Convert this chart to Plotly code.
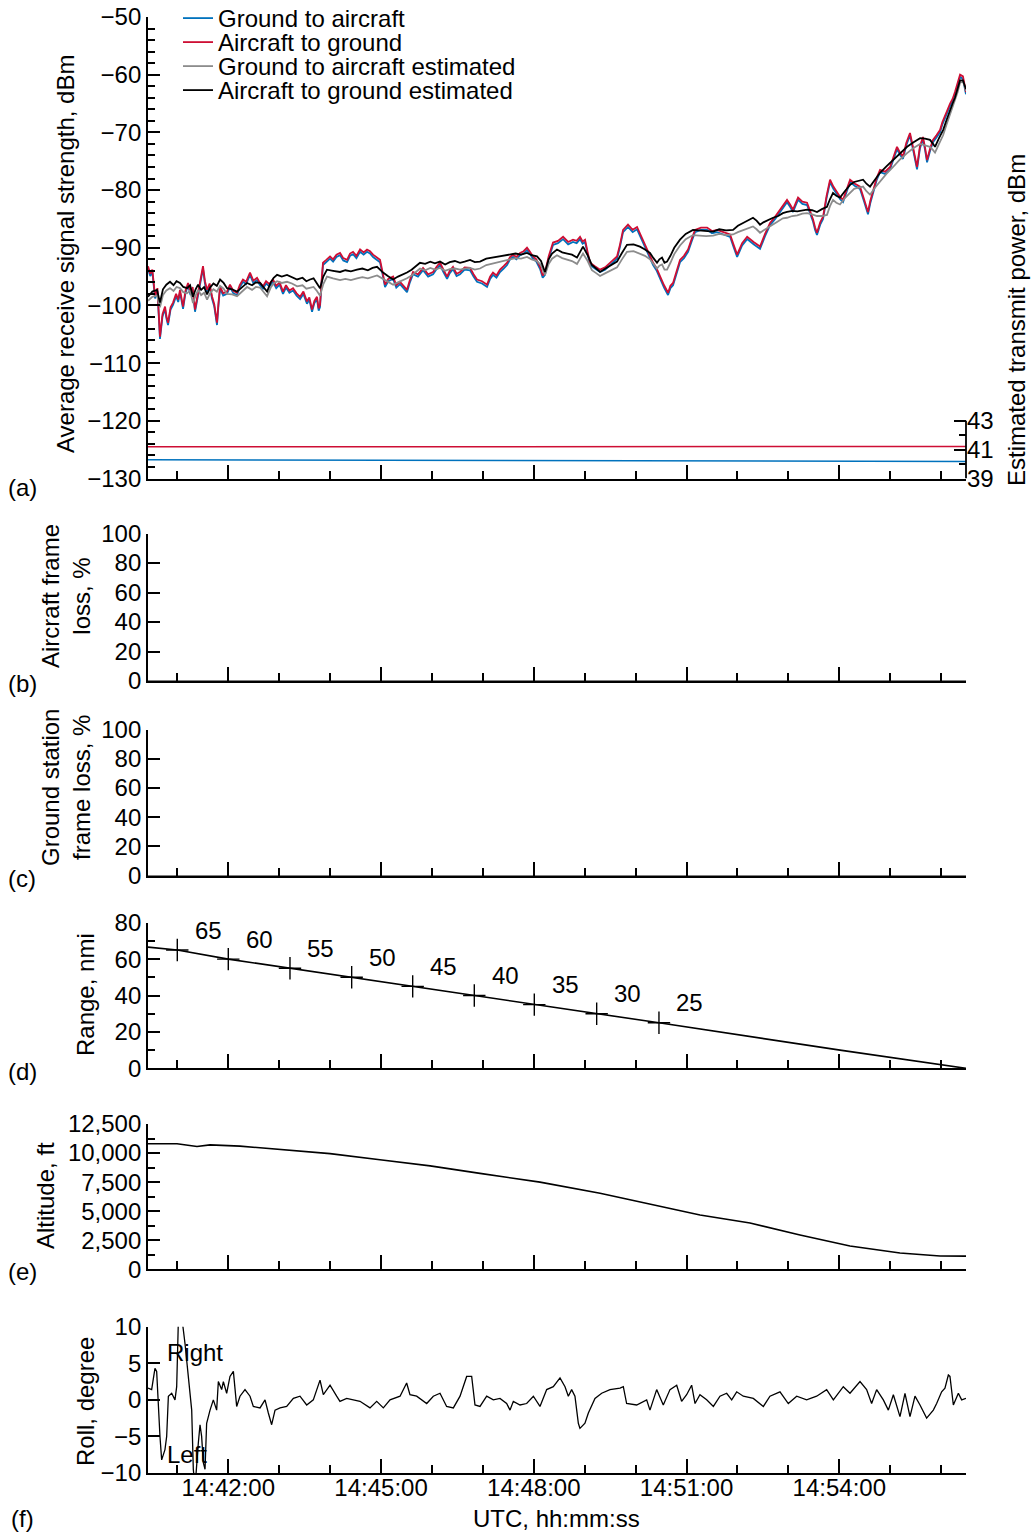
import pandas as pd
import plotly.graph_objects as go

# ---------------- data (seconds after 14:40:00 UTC) ----------------
t_meas = [25.4, 28.0, 30.5, 33.7, 36.5, 39.5, 42.5, 45.5, 47.0, 49.0,
          52.0, 54.9, 58.5, 61.0, 63.1, 66.7, 69.5, 72.6, 75.5, 78.0,
          80.8, 84.0, 87.0, 90.2, 92.5, 95.0, 98.0, 100.8, 103.5, 106.7,
          108.5, 110.3, 114.0, 118.5, 122.0, 126.0, 130.3, 133.5, 137.3, 141.0,
          145.6, 149.5, 153.9, 157.0, 160.9, 164.5, 168.5, 172.7, 176.5, 180.5,
          184.5, 188.0, 192.0, 196.3, 200.5, 204.6, 208.5, 212.7, 215.5, 218.7,
          221.5, 224.5, 226.5, 228.1, 229.8, 231.6, 235.5, 239.9, 243.5, 247.5,
          251.7, 255.5, 260.0, 263.5, 267.0, 271.0, 275.3, 279.5, 283.5, 287.0,
          290.6, 294.5, 298.8, 301.5, 304.7, 308.5, 314.2, 318.0, 322.3, 326.5,
          330.6, 334.0, 337.7, 343.5, 349.5, 355.5, 361.3, 365.5, 369.5, 373.5,
          377.8, 381.0, 384.8, 389.0, 393.1, 398.5, 404.9, 409.0, 413.1, 419.0,
          424.9, 428.5, 431.9, 436.0, 440.2, 444.5, 448.5, 452.0, 455.5, 459.5,
          463.8, 468.0, 472.0, 475.5, 479.1, 483.0, 487.4, 490.5, 493.2, 497.5,
          502.7, 508.5, 514.5, 520.5, 526.2, 530.5, 534.5, 537.5, 540.4, 543.5,
          546.3, 552.0, 558.1, 564.0, 569.9, 574.0, 578.1, 581.5, 585.2, 591.0,
          596.5, 601.7, 605.0, 608.8, 614.5, 620.6, 624.5, 628.8, 633.5, 638.2,
          641.0, 644.1, 648.0, 652.3, 657.0, 661.8, 666.0, 670.0, 677.0, 684.2,
          690.0, 696.0, 703.5, 711.3, 715.5, 719.6, 725.5, 731.4, 739.0, 746.6,
          752.5, 758.4, 764.5, 770.2, 774.5, 778.4, 782.0, 785.5, 788.5, 791.4,
          796.5, 802.0, 805.5, 809.1, 811.5, 813.7, 817.5, 820.9, 825.0, 829.1,
          833.0, 837.3, 841.0, 844.4, 848.5, 852.7, 858.5, 864.4, 869.0, 873.8,
          876.5, 879.8, 884.0, 888.0, 894.0, 899.8, 904.0, 908.0, 911.5, 915.0,
          919.0, 923.3, 927.5, 931.6, 935.0, 938.6, 941.0, 943.4, 947.0, 950.4,
          954.5, 958.7, 961.5, 964.5, 967.5, 970.5, 973.5, 976.3, 979.5, 982.3,
          985.7, 987.5, 989.3]
rssi_a2g = [-93.2, -94.5, -93.8, -98.4, -97.0, -105.4, -101.5, -100.2, -101.8, -103.0,
            -100.3, -99.5, -98.0, -99.0, -97.3, -100.2, -97.5, -96.1, -97.8, -96.8,
            -100.7, -98.2, -95.5, -93.2, -95.8, -97.3, -96.2, -98.4, -99.8, -103.0,
            -99.5, -96.7, -97.9, -97.6, -96.4, -97.5, -97.8, -96.5, -95.5, -95.9,
            -94.3, -95.7, -95.2, -96.0, -96.7, -95.8, -96.3, -95.5, -96.6, -96.0,
            -97.6, -96.5, -97.4, -97.0, -97.9, -98.5, -97.6, -99.3, -98.6, -100.7,
            -99.2, -98.5, -100.5, -99.9, -96.0, -92.6, -92.1, -91.5, -92.0, -91.2,
            -90.9, -91.8, -92.1, -91.0, -90.7, -91.4, -90.3, -90.8, -90.3, -90.6,
            -91.2, -91.6, -92.1, -94.0, -96.4, -95.4, -95.0, -96.5, -95.9, -96.6,
            -97.3, -95.6, -94.2, -94.6, -93.5, -94.6, -94.2, -93.3, -92.6, -93.8,
            -95.0, -94.0, -93.3, -94.5, -94.2, -93.4, -93.5, -94.6, -95.5, -95.8,
            -96.4, -95.0, -94.3, -94.8, -93.8, -93.2, -92.6, -91.6, -91.2, -91.6,
            -90.9, -90.6, -90.0, -90.7, -91.5, -92.0, -93.3, -94.8, -94.3, -91.5,
            -89.1, -88.8, -88.1, -89.0, -88.6, -88.8, -88.1, -88.9, -88.6, -90.8,
            -92.6, -93.2, -93.8, -93.4, -92.6, -92.2, -91.5, -89.5, -86.9, -86.0,
            -86.9, -86.4, -87.5, -88.6, -90.5, -92.6, -93.5, -95.0, -96.5, -97.8,
            -96.6, -96.1, -94.2, -92.1, -91.4, -90.3, -88.5, -86.9, -86.5, -86.5,
            -87.1, -86.9, -87.3, -87.7, -89.5, -91.2, -89.2, -88.1, -89.0, -89.8,
            -87.6, -85.7, -84.6, -83.4, -82.6, -81.7, -82.5, -83.4, -82.3, -81.3,
            -82.0, -82.2, -83.6, -85.1, -86.5, -87.4, -85.6, -84.6, -81.0, -78.2,
            -79.4, -80.5, -81.2, -81.7, -79.8, -78.2, -78.9, -79.4, -81.5, -83.8,
            -81.9, -80.0, -77.9, -76.5, -76.8, -76.0, -74.0, -72.5, -73.5, -74.2,
            -71.8, -70.1, -73.0, -76.0, -72.4, -70.8, -72.6, -74.8, -72.8, -71.3,
            -70.5, -69.6, -68.2, -67.0, -66.1, -65.0, -64.2, -63.0, -61.5, -60.0,
            -60.3, -61.8, -63.0]
rssi_g2a = [-93.6, -94.9, -94.2, -98.8, -97.4, -105.8, -101.9, -100.6, -102.2, -103.4,
            -100.7, -99.9, -98.4, -99.4, -97.7, -100.6, -97.9, -96.5, -98.2, -97.2,
            -101.1, -98.6, -95.9, -93.6, -96.2, -97.7, -96.6, -98.8, -100.2, -103.4,
            -99.9, -97.1, -98.3, -98.0, -96.8, -97.9, -98.2, -96.9, -95.9, -96.3,
            -94.7, -96.1, -95.6, -96.4, -97.1, -96.2, -96.7, -95.9, -97.0, -96.4,
            -98.0, -96.9, -97.8, -97.4, -98.3, -98.9, -98.0, -99.7, -99.0, -101.1,
            -99.6, -98.9, -100.9, -100.3, -96.4, -93.0, -92.5, -91.9, -92.4, -91.6,
            -91.3, -92.2, -92.5, -91.4, -91.1, -91.8, -90.7, -91.2, -90.7, -91.0,
            -91.6, -92.0, -92.5, -94.4, -96.8, -95.8, -95.4, -96.9, -96.3, -97.0,
            -97.7, -96.0, -94.6, -95.0, -93.9, -95.0, -94.6, -93.7, -93.0, -94.2,
            -95.4, -94.4, -93.7, -94.9, -94.6, -93.8, -93.9, -95.0, -95.9, -96.2,
            -96.8, -95.4, -94.7, -95.2, -94.2, -93.6, -93.0, -92.0, -91.6, -92.0,
            -91.3, -91.0, -90.4, -91.1, -91.9, -92.4, -93.7, -95.2, -94.7, -91.9,
            -89.5, -89.2, -88.5, -89.4, -89.0, -89.2, -88.5, -89.3, -89.0, -91.2,
            -93.0, -93.6, -94.2, -93.8, -93.0, -92.6, -91.9, -89.9, -87.3, -86.4,
            -87.3, -86.8, -87.9, -89.0, -90.9, -93.0, -93.9, -95.4, -96.9, -98.2,
            -97.0, -96.5, -94.6, -92.5, -91.8, -90.7, -88.9, -87.3, -86.9, -86.9,
            -87.5, -87.3, -87.7, -88.1, -89.9, -91.6, -89.6, -88.5, -89.4, -90.2,
            -88.0, -86.1, -85.0, -83.8, -83.0, -82.1, -82.9, -83.8, -82.7, -81.7,
            -82.4, -82.6, -84.0, -85.5, -86.9, -87.8, -86.0, -85.0, -81.4, -78.6,
            -79.8, -80.9, -81.6, -82.1, -80.2, -78.6, -79.3, -79.8, -81.9, -84.2,
            -82.3, -80.4, -78.3, -76.9, -77.2, -76.4, -74.4, -72.9, -73.9, -74.6,
            -72.2, -70.5, -73.4, -76.4, -72.8, -71.2, -73.0, -75.2, -73.2, -71.7,
            -70.9, -70.0, -68.6, -67.4, -66.5, -65.4, -64.6, -63.4, -61.9, -60.4,
            -60.7, -62.2, -63.4]

t_est = [25.4, 30.5, 36.0, 39.5, 43.0, 47.0, 51.3, 55.5, 59.0, 63.1,
         67.0, 71.4, 75.0, 78.4, 81.5, 84.4, 88.0, 91.5, 95.0, 98.5,
         102.5, 106.5, 110.3, 114.5, 118.5, 124.5, 130.3, 136.0, 142.1, 148.0,
         152.5, 157.4, 161.5, 165.7, 170.0, 173.5, 177.5, 183.0, 189.2, 195.0,
         201.1, 207.5, 212.0, 216.3, 220.5, 224.5, 228.1, 232.0, 236.3, 243.5,
         251.7, 258.0, 264.5, 271.7, 278.0, 284.5, 290.0, 295.3, 302.4, 308.0,
         314.2, 320.0, 325.5, 330.6, 336.0, 341.5, 345.9, 352.0, 358.0, 363.5,
         369.5, 375.5, 381.0, 387.0, 393.1, 398.5, 404.9, 410.5, 416.6, 424.0,
         431.9, 438.0, 444.5, 452.0, 458.5, 465.0, 472.0, 477.5, 483.8, 488.5,
         493.2, 497.5, 501.5, 507.3, 513.5, 519.5, 525.0, 530.9, 534.5, 538.0,
         543.5, 548.5, 553.5, 558.1, 564.5, 571.0, 578.1, 583.5, 589.8, 597.5,
         605.1, 611.0, 616.9, 621.0, 625.2, 628.0, 631.1, 634.0, 637.0, 641.0,
         645.5, 652.3, 659.0, 667.6, 675.0, 683.0, 691.3, 698.5, 706.5, 714.8,
         720.5, 726.6, 732.5, 738.3, 742.5, 746.6, 750.5, 755.5, 761.9, 768.0,
         773.5, 778.4, 784.5, 790.5, 796.5, 802.0, 808.0, 813.7, 819.5, 825.5,
         829.0, 832.6, 836.5, 840.8, 846.5, 852.7, 857.5, 862.0, 868.0, 872.0,
         876.2, 882.0, 888.0, 895.5, 903.4, 911.5, 919.9, 927.5, 935.2, 941.0,
         946.9, 950.0, 952.8, 957.5, 962.3, 966.5, 970.5, 973.5, 976.3, 979.5,
         982.3, 985.7, 987.5, 989.3]
rssi_a2g_est = [-98.5, -97.6, -97.3, -99.5, -97.2, -96.4, -95.9, -96.5, -95.8, -96.1,
                -96.8, -97.0, -96.5, -98.5, -97.2, -96.4, -97.3, -96.8, -98.1, -96.9,
                -96.2, -96.6, -95.5, -96.1, -97.0, -97.2, -97.6, -96.8, -96.1, -96.5,
                -96.0, -96.1, -96.9, -97.6, -96.0, -95.2, -94.7, -95.0, -94.7, -95.1,
                -95.5, -95.2, -95.8, -95.5, -95.3, -96.2, -97.0, -95.0, -93.8, -94.0,
                -94.2, -93.9, -94.1, -93.8, -93.6, -93.9, -93.5, -93.3, -94.3, -94.9,
                -95.5, -95.0, -94.7, -94.3, -93.8, -93.2, -92.6, -92.8, -92.4, -92.7,
                -92.4, -92.9, -92.5, -92.3, -92.6, -92.4, -92.1, -92.5, -92.4, -91.9,
                -91.7, -91.5, -91.4, -91.2, -91.0, -91.2, -90.9, -91.3, -91.5, -92.3,
                -94.2, -92.0, -91.0, -90.3, -90.8, -91.0, -91.2, -91.7, -90.7, -89.8,
                -91.3, -93.0, -93.6, -94.2, -93.6, -93.0, -92.4, -91.0, -89.5, -89.4,
                -89.8, -90.3, -90.9, -91.8, -92.6, -92.0, -91.7, -92.6, -92.4, -91.4,
                -90.0, -88.6, -87.6, -86.9, -87.0, -87.2, -87.2, -86.8, -87.0, -86.9,
                -86.2, -85.7, -85.2, -84.8, -85.3, -86.0, -85.6, -85.2, -84.8, -84.5,
                -84.0, -83.8, -83.6, -83.7, -83.5, -83.4, -83.5, -83.8, -83.3, -82.9,
                -81.6, -80.5, -81.0, -81.3, -80.2, -79.1, -78.6, -78.4, -78.2, -78.9,
                -79.4, -78.2, -77.0, -75.9, -74.8, -73.6, -72.5, -71.7, -71.0, -71.1,
                -71.3, -71.9, -72.5, -71.0, -69.6, -67.8, -66.0, -65.0, -64.0, -62.5,
                -61.0, -61.0, -61.6, -62.5]
rssi_g2a_est = [-99.2, -98.5, -98.3, -100.3, -98.2, -97.4, -97.0, -97.5, -96.8, -97.0,
                -97.7, -97.9, -97.4, -99.6, -98.3, -97.3, -98.2, -97.8, -99.0, -97.9,
                -97.2, -97.6, -96.6, -97.1, -98.0, -98.1, -98.4, -97.6, -96.8, -97.3,
                -96.8, -96.9, -97.7, -98.4, -96.9, -96.2, -95.8, -96.1, -95.9, -96.2,
                -96.7, -96.5, -97.1, -97.0, -96.8, -97.5, -98.3, -96.3, -95.0, -95.3,
                -95.6, -95.4, -95.6, -95.3, -95.1, -95.3, -95.0, -94.8, -95.4, -95.9,
                -96.4, -96.0, -95.7, -95.3, -94.8, -94.2, -93.6, -93.9, -93.5, -93.8,
                -93.5, -94.0, -93.7, -93.6, -93.8, -93.6, -93.5, -93.8, -93.6, -93.0,
                -92.7, -92.4, -92.2, -92.0, -91.8, -91.9, -91.6, -92.0, -92.3, -93.0,
                -94.7, -92.8, -91.9, -91.3, -91.8, -92.1, -92.3, -92.8, -91.9, -91.0,
                -92.3, -93.9, -94.4, -94.9, -94.4, -93.9, -93.4, -92.1, -90.7, -90.6,
                -91.0, -91.4, -92.0, -92.9, -93.6, -93.1, -92.9, -93.8, -93.8, -92.6,
                -91.1, -89.6, -88.5, -87.8, -87.9, -88.0, -87.9, -87.6, -87.8, -87.7,
                -87.3, -87.0, -86.6, -86.3, -86.8, -87.4, -87.0, -86.5, -85.9, -85.4,
                -84.9, -84.8, -84.5, -84.4, -84.1, -84.0, -84.2, -84.5, -84.5, -84.3,
                -82.8, -81.7, -82.2, -82.5, -81.4, -80.4, -79.8, -79.6, -79.4, -80.2,
                -80.8, -79.6, -78.5, -77.2, -76.0, -74.7, -73.6, -72.7, -72.0, -72.2,
                -72.5, -73.0, -73.5, -72.0, -70.5, -68.6, -66.8, -65.7, -64.6, -63.0,
                -61.4, -61.2, -61.9, -62.8]

t_tx = [25.4, 510.9, 880.0, 989.3]
tx_g2a = [40.30, 40.25, 40.18, 40.18]
tx_a2g = [41.20, 41.20, 41.22, 41.22]

t_loss = [25.4, 989.3]
loss_aircraft = [0, 0]
loss_ground = [0, 0]

t_range = [25.4, 59.9, 120.0, 192.7, 265.4, 337.3, 409.9, 480.6, 554.1, 627.5, 840.9, 989.3]
range_nmi = [66.6, 65.0, 60.0, 55.0, 50.0, 45.0, 40.0, 35.0, 30.0, 25.0, 10.0, 0.0]
t_mark = [59.9, 120.0, 192.7, 265.4, 337.3, 409.9, 480.6, 554.1, 627.5]
mark_nmi = [65, 60, 55, 50, 45, 40, 35, 30, 25]

t_alt = [25.4, 59.6, 83.1, 98.5, 133.8, 180.9, 239.9, 301.1, 357.9, 416.6, 487.3, 558.1, 617.0,
         675.9, 734.8, 793.7, 852.6, 911.5, 958.7, 989.3]
altitude_ft = [10800, 10800, 10570, 10700, 10600, 10300, 9950, 9400, 8900, 8250, 7500, 6550, 5600,
               4670, 3980, 2950, 2000, 1400, 1150, 1130]

t_roll = [25.4, 29.7, 33.6, 35.6, 39.5, 41.5, 45.4, 47.4, 49.4, 53.3, 57.2, 59.2, 61.1, 65.1, 69.0,
          72.9, 76.9, 78.8, 80.8, 84.7, 86.7, 88.6, 90.6, 92.6, 94.5, 98.5, 102.4, 106.3, 108.3,
          112.2, 114.2, 118.1, 122.0, 126.0, 129.9, 133.8, 139.7, 145.6, 149.5, 157.4, 163.3,
          167.2, 171.1, 175.1, 181.0, 188.8, 196.7, 204.5, 212.4, 220.2, 228.1, 232.0, 239.9,
          247.7, 251.6, 259.5, 267.4, 275.2, 287.0, 294.9, 302.7, 310.6, 322.4, 330.2, 334.1,
          342.0, 353.8, 361.6, 369.5, 377.3, 385.2, 393.1, 400.9, 406.8, 410.7, 416.6, 424.5,
          432.3, 440.2, 448.0, 452.0, 455.9, 463.8, 471.6, 479.5, 487.3, 495.2, 503.0, 510.9,
          516.8, 520.7, 524.6, 528.5, 532.5, 534.4, 540.3, 544.3, 552.1, 560.0, 569.8, 581.6,
          585.5, 589.4, 601.2, 613.0, 616.9, 624.8, 632.6, 640.5, 648.4, 654.2, 660.1, 666.0,
          670.0, 675.8, 683.7, 691.6, 699.4, 707.3, 713.2, 719.1, 726.9, 738.7, 750.5, 758.3,
          770.1, 779.9, 789.8, 801.5, 813.3, 825.1, 833.0, 844.7, 852.6, 864.4, 872.2, 878.1,
          884.0, 891.9, 897.8, 903.7, 911.5, 917.4, 923.3, 929.2, 935.1, 942.9, 950.8, 954.7,
          960.6, 964.5, 968.5, 970.4, 974.4, 980.3, 984.2, 989.3]
roll_deg = [1.6, 1.4, 4.3, 3.9, -5.0, -8.2, -6.8, -5.0, 0.5, 0.9, 0.0, 1.8, 10.5, 11.4, 7.7,
            3.2, -1.4, -9.5, -12.0, -5.9, -3.4, -5.0, -8.6, -9.5, -3.2, -1.4, 0.0, -1.4, 2.5,
            1.4, 2.5, 0.9, 3.2, 3.9, -0.9, 0.5, 1.4, 0.5, -0.9, -1.1, 0.0,
            -1.8, -3.4, -1.4, -1.1, -0.9, 0.2, 0.5, -0.7, 0.0, 2.7, 0.7, 2.0,
            0.5, -0.2, 0.2, 0.0, -0.2, -1.1, -0.2, -1.1, 0.0, 0.5, 2.3, 0.7,
            0.5, -0.5, 0.5, 0.9, -0.9, -1.1, 0.5, 3.2, 3.2, -0.7, -0.9, 0.5,
            0.0, 0.2, -0.5, -1.4, -0.2, -0.7, -0.5, 0.5, -0.9, 1.4, 1.8, 3.0,
            1.8, 0.5, 1.4, 0.5, -3.2, -3.9, -3.2, -1.8, 0.2, 0.9, 1.4, 1.6,
            1.8, -0.5, -0.7, 0.0, -1.4, 1.4, -0.7, 1.4, 2.0, -0.2, 0.7, 2.0,
            -0.5, 0.7, 0.0, -0.9, 0.5, 0.9, 0.0, 1.1, 0.5, 0.2, -0.9, 0.5,
            1.1, -0.5, 0.5, 0.0, 0.5, 1.4, 0.0, 1.8, 0.9, 2.5, 1.4, -0.5,
            1.4, 0.0, -1.4, 0.7, -2.3, 0.9, -2.3, 0.5, -0.7, -2.5, -1.4, -0.5,
            1.1, 1.6, 3.4, 3.2, -0.7, 0.9, 0.0, 0.2]

x_start_s, x_end_s = 25.4, 989.3

# ---------------- helpers ----------------
BASE = pd.Timestamp("2000-01-01 14:40:00")


def ts(sec):
    return [BASE + pd.Timedelta(seconds=float(s)) for s in sec]


FONT = "Liberation Sans, Arial, sans-serif"
FS = 24
TICK_FONT = dict(family=FONT, size=FS, color="black")
TFONT = dict(family=FONT, size=FS, color="black")

W_FIG, H_FIG = 1032, 1532
PLOT_L, PLOT_R, PLOT_T, PLOT_B = 148, 966, 17, 1473
M_L, M_R, M_T, M_B = PLOT_L, W_FIG - PLOT_R, PLOT_T, H_FIG - PLOT_B
PW, PH = PLOT_R - PLOT_L, PLOT_B - PLOT_T


def px_x(px):
    return (px - PLOT_L) / PW


def px_y(py):
    return (PLOT_B - py) / PH


BLUE, RED, GRAY, BLACK = "#0072BD", "#CE0E34", "#8C8C8C", "#000000"
LW = 1.8

fig = go.Figure()

# panel (a)
fig.add_trace(go.Scatter(x=ts(t_meas), y=rssi_g2a, mode="lines", name="Ground to aircraft",
                         line=dict(color=BLUE, width=LW), xaxis="x", yaxis="y", legend="legend"))
fig.add_trace(go.Scatter(x=ts(t_meas), y=rssi_a2g, mode="lines", name="Aircraft to ground",
                         line=dict(color=RED, width=LW), xaxis="x", yaxis="y", legend="legend2"))
fig.add_trace(go.Scatter(x=ts(t_est), y=rssi_g2a_est, mode="lines", name="Ground to aircraft estimated",
                         line=dict(color=GRAY, width=LW), xaxis="x", yaxis="y", legend="legend3"))
fig.add_trace(go.Scatter(x=ts(t_est), y=rssi_a2g_est, mode="lines", name="Aircraft to ground estimated",
                         line=dict(color=BLACK, width=LW), xaxis="x", yaxis="y", legend="legend4"))
fig.add_trace(go.Scatter(x=ts(t_tx), y=tx_g2a, mode="lines", showlegend=False,
                         line=dict(color=BLUE, width=1.5), xaxis="x", yaxis="y7"))
fig.add_trace(go.Scatter(x=ts(t_tx), y=tx_a2g, mode="lines", showlegend=False,
                         line=dict(color=RED, width=1.5), xaxis="x", yaxis="y7"))
# panels (b), (c)
fig.add_trace(go.Scatter(x=ts(t_loss), y=loss_aircraft, mode="lines", showlegend=False,
                         line=dict(color=BLACK, width=1), xaxis="x2", yaxis="y2"))
fig.add_trace(go.Scatter(x=ts(t_loss), y=loss_ground, mode="lines", showlegend=False,
                         line=dict(color=BLACK, width=1), xaxis="x3", yaxis="y3"))
# panel (d)
fig.add_trace(go.Scatter(x=ts(t_range), y=range_nmi, mode="lines", showlegend=False,
                         line=dict(color=BLACK, width=1.6), xaxis="x4", yaxis="y4"))
fig.add_trace(go.Scatter(x=ts(t_mark), y=mark_nmi, mode="markers", showlegend=False,
                         marker=dict(symbol="cross-thin", size=16, line=dict(color=BLACK, width=1.4)),
                         xaxis="x4", yaxis="y4"))
# panel (e)
fig.add_trace(go.Scatter(x=ts(t_alt), y=altitude_ft, mode="lines", showlegend=False,
                         line=dict(color=BLACK, width=1.6), xaxis="x5", yaxis="y5"))
# panel (f)
fig.add_trace(go.Scatter(x=ts(t_roll), y=roll_deg, mode="lines", showlegend=False,
                         line=dict(color=BLACK, width=1.3), xaxis="x6", yaxis="y6"))

# ---------------- axes ----------------
xr = ts([x_start_s, x_end_s])
base_x = dict(type="date", range=xr, tick0="2000-01-01 14:42:00", dtick=180000,
              tickformat="%H:%M:%S", ticks="inside", ticklen=14, tickwidth=1.5, tickcolor="black",
              minor=dict(ticks="inside", dtick=60000, tick0="2000-01-01 14:42:00", ticklen=8,
                         tickwidth=1.5, tickcolor="black", showgrid=False),
              showline=True, linecolor="black", linewidth=1.8, showgrid=False, zeroline=False,
              tickfont=TICK_FONT, domain=[0, 1], automargin=False)

domains = {
    1: [px_y(478.5), 1.0],
    2: [px_y(681), px_y(533.5)],
    3: [px_y(875.5), px_y(729.5)],
    4: [px_y(1068.3), px_y(922.7)],
    5: [px_y(1269.3), px_y(1124)],
    6: [0.0, px_y(1326.7)],
}

layout_axes = {}
for i in range(1, 7):
    xk = "xaxis" if i == 1 else f"xaxis{i}"
    yk = "y" if i == 1 else f"y{i}"
    d = dict(base_x)
    d["anchor"] = yk
    d["showticklabels"] = (i == 6)
    if i != 1:
        d["matches"] = "x"
    if i == 6:
        d["ticklabelstandoff"] = -8
    layout_axes[xk] = d

base_y = dict(ticks="inside", ticklen=12, tickwidth=1.5, tickcolor="black", showline=True,
              linecolor="black", linewidth=1.8, showgrid=False, zeroline=False, tickfont=TICK_FONT,
              automargin=False)

ycfg = {
    1: dict(range=[-130, -50], dtick=10, tick0=-130,
            minor=dict(ticks="inside", dtick=2, tick0=-130, ticklen=7, tickwidth=1.5, tickcolor="black")),
    2: dict(range=[0, 100], dtick=20, tick0=0),
    3: dict(range=[0, 100], dtick=20, tick0=0),
    4: dict(range=[0, 80], dtick=20, tick0=0,
            minor=dict(ticks="inside", dtick=10, tick0=0, ticklen=7, tickwidth=1.5, tickcolor="black")),
    5: dict(range=[0, 12500], dtick=2500, tick0=0, tickformat=",d",
            minor=dict(ticks="inside", dtick=1250, tick0=0, ticklen=7, tickwidth=1.5, tickcolor="black")),
    6: dict(range=[-10, 10], dtick=5, tick0=-10),
}
for i in range(1, 7):
    yk = "yaxis" if i == 1 else f"yaxis{i}"
    xk = "x" if i == 1 else f"x{i}"
    d = dict(base_y)
    d.update(ycfg[i])
    d["domain"] = domains[i]
    d["anchor"] = xk
    layout_axes[yk] = d

layout_axes["yaxis7"] = dict(overlaying="y", side="right", anchor="x", range=[39, 71],
                             tickmode="array", tickvals=[39, 41, 43], ticks="inside", ticklen=12,
                             tickwidth=1.5, tickcolor="black", showline=False, showgrid=False,
                             zeroline=False, tickfont=TICK_FONT, automargin=False,
                             minor=dict(ticks="inside", tickmode="array", tickvals=[40, 42],
                                        ticklen=7, tickwidth=1.5, tickcolor="black"))

# ---------------- annotations ----------------
ann = []


def side_title(text, cx, cy, angle=-90):
    ann.append(dict(text=text, xref="paper", yref="paper", x=px_x(cx), y=px_y(cy), showarrow=False,
                    textangle=angle, xanchor="center", yanchor="middle", font=TFONT, align="center"))


side_title("Average receive signal strength, dBm", 66, 254)
side_title("Aircraft frame<br>loss, %", 66, 596)
side_title("Ground station<br>frame loss, %", 66, 788)
side_title("Range, nmi", 85, 995)
side_title("Altitude, ft", 45, 1196)
side_title("Roll, degree", 85, 1402)
side_title("Estimated transmit power, dBm", 1016, 320)

for lab, py in [("(a)", 488), ("(b)", 683), ("(c)", 878), ("(d)", 1071), ("(e)", 1271), ("(f)", 1519)]:
    ann.append(dict(text=lab, xref="paper", yref="paper", x=px_x(22), y=px_y(py), showarrow=False,
                    xanchor="center", yanchor="middle", font=TFONT))

ann.append(dict(text="UTC, hh:mm:ss", xref="paper", yref="paper", x=px_x(556), y=px_y(1519),
                showarrow=False, xanchor="center", yanchor="middle", font=TFONT))

for tm, nm in zip(t_mark, mark_nmi):
    ann.append(dict(text=str(nm), xref="x4", yref="y4", x=ts([tm])[0], y=nm, showarrow=False,
                    xshift=31, yshift=20, xanchor="center", yanchor="middle", font=TFONT))

ann.append(dict(text="Right", xref="x6", yref="y6", x=ts([45.5])[0], y=6.5, showarrow=False,
                xanchor="left", yanchor="middle", font=TFONT))
ann.append(dict(text="Left", xref="x6", yref="y6", x=ts([45.5])[0], y=-7.5, showarrow=False,
                xanchor="left", yanchor="middle", font=TFONT))

shapes = [dict(type="line", xref="paper", yref="y7", x0=1, x1=1, y0=39, y1=43,
               line=dict(color="black", width=1.8))]

legends = {}
for k, row_c in zip(["legend", "legend2", "legend3", "legend4"], [18, 42, 66, 90]):
    legends[k] = dict(x=px_x(178), y=px_y(row_c - 22), xanchor="left", yanchor="top",
                      bgcolor="rgba(0,0,0,0)", font=TFONT, borderwidth=0, itemwidth=30)

fig.update_layout(
    width=W_FIG, height=H_FIG,
    margin=dict(l=M_L, r=M_R, t=M_T, b=M_B, pad=0, autoexpand=False),
    paper_bgcolor="white", plot_bgcolor="white",
    font=dict(family=FONT, size=FS, color="black"),
    annotations=ann, shapes=shapes,
    **legends,
    **layout_axes,
)

# remove the default 8 px page margin so the figure fills the window exactly
fig.write_html("out.html", config={"displayModeBar": False},
               post_script="document.body.style.margin='0px';document.body.style.overflow='hidden';")
